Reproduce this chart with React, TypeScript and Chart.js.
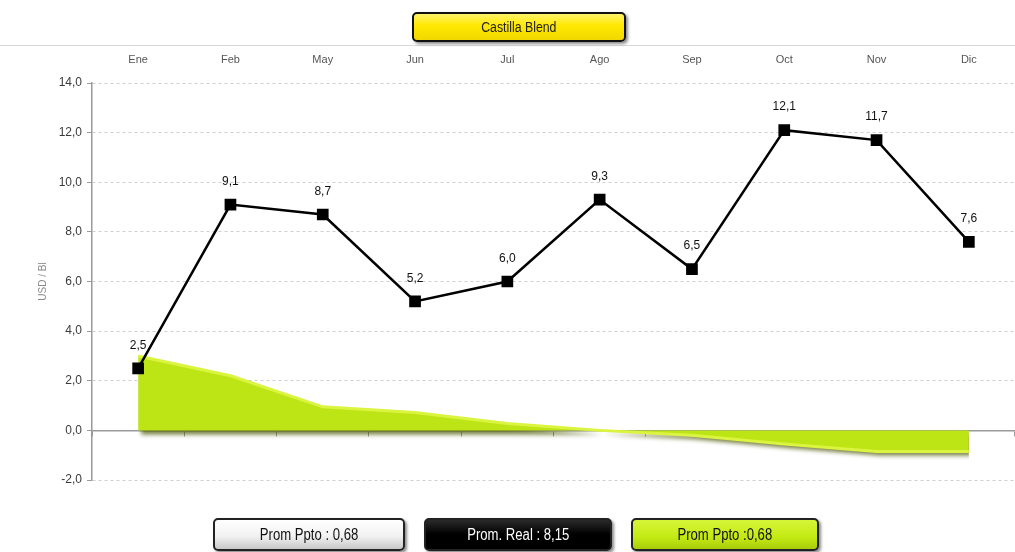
import React, { useEffect, useRef } from "react";
import { Chart, registerables } from "chart.js";

const title = "Castilla Blend";
const categories = ["Ene", "Feb", "May", "Jun", "Jul", "Ago", "Sep", "Oct", "Nov", "Dic"];
const realValues = [2.5, 9.1, 8.7, 5.2, 6.0, 9.3, 6.5, 12.1, 11.7, 7.6];
const pptoValues = [3.0, 2.2, 0.95, 0.72, 0.28, 0.0, -0.2, -0.55, -0.85, -0.85];
const yTitle = "USD / Bl";
const yMin = -2;
const yMax = 14;
const yStep = 2;
const legendTexts = ["Prom Ppto : 0,68", "Prom. Real : 8,15", "Prom Ppto :0,68"];

const FONT = "'Liberation Sans', 'DejaVu Sans', sans-serif";
const fmt = (v: number) => v.toFixed(1).replace(".", ",");

// Registered before the built-ins so that it runs before the Filler plugin draws the area.
const shadowPlugin = {
  id: "areaShadow",
  beforeDatasetDraw(chart: any, args: any) {
    if (args.index === 2) {
      const ctx = chart.ctx;
      ctx.save();
      ctx.shadowColor = "rgba(75,85,0,0.75)";
      ctx.shadowOffsetX = 3;
      ctx.shadowOffsetY = 4;
      ctx.shadowBlur = 4;
    }
  },
  afterDatasetDraw(chart: any, args: any) {
    if (args.index === 2) {
      chart.ctx.restore();
    }
  },
};

Chart.register(shadowPlugin);
Chart.register(...registerables);

const labelPlugin = {
  id: "valueLabels",
  afterDatasetsDraw(chart: any) {
    const meta = chart.getDatasetMeta(0);
    const ctx = chart.ctx;
    ctx.save();
    ctx.font = `12px ${FONT}`;
    ctx.fillStyle = "#111";
    ctx.textAlign = "center";
    ctx.textBaseline = "middle";
    meta.data.forEach((pt: any, i: number) => {
      ctx.fillText(fmt(realValues[i]), pt.x, pt.y - 23);
    });
    ctx.restore();
  },
};

const noPad = (s: any) => {
  s.paddingLeft = 0;
  s.paddingRight = 0;
};

const CANVAS_W = 1024;

export default function App() {
  const ref = useRef<HTMLCanvasElement | null>(null);

  useEffect(() => {
    if (!ref.current) return;
    const chart = new Chart(ref.current, {
      type: "line",
      data: {
        labels: categories,
        datasets: [
          {
            label: "Real",
            data: realValues,
            borderColor: "#000",
            borderWidth: 2.5,
            pointStyle: "rect",
            pointRadius: 6.5,
            pointHoverRadius: 6.5,
            pointBackgroundColor: "#000",
            pointBorderColor: "#000",
            tension: 0,
            fill: false,
          },
          {
            label: "Ppto edge",
            data: pptoValues,
            borderColor: "#dbf440",
            borderWidth: 3,
            pointRadius: 0,
            pointHoverRadius: 0,
            tension: 0,
            fill: false,
          },
          {
            label: "Ppto",
            data: pptoValues,
            borderWidth: 0,
            borderColor: "rgba(0,0,0,0)",
            backgroundColor: "#bde414",
            pointRadius: 0,
            pointHoverRadius: 0,
            tension: 0,
            fill: "origin",
          },
        ],
      },
      options: {
        responsive: false,
        animation: false,
        layout: { padding: { top: 45, bottom: 72, left: 0, right: 0 } },
        plugins: {
          legend: { display: false },
          tooltip: { enabled: false },
          title: { display: false },
        },
        scales: {
          x: {
            type: "category",
            position: "top",
            offset: true,
            grid: { display: false, drawTicks: false },
            border: { display: false },
            ticks: {
              padding: 16,
              color: "#555",
              font: { family: FONT, size: 11 },
              maxRotation: 0,
            },
            afterFit: (s: any) => {
              s.height = 38;
              noPad(s);
            },
          },
          x2: {
            type: "category",
            axis: "x",
            position: { y: 0 },
            offset: true,
            grid: {
              display: true,
              offset: true,
              drawOnChartArea: false,
              drawTicks: true,
              tickLength: 5,
              color: "#9a9a9a",
            },
            border: { display: true, color: "#9a9a9a", width: 1.5 },
            ticks: { display: false },
            afterFit: (s: any) => {
              s.height = 0;
              noPad(s);
            },
          },
          y: {
            min: yMin,
            max: yMax,
            ticks: {
              stepSize: yStep,
              padding: 5,
              color: "#3a3a3a",
              font: { family: FONT, size: 12 },
              callback: (v: any) => fmt(Number(v)),
            },
            grid: {
              color: (c: any) => (c.tick && c.tick.value === 0 ? "rgba(0,0,0,0)" : "#cfcfcf"),
              tickColor: "#9a9a9a",
              tickLength: 5,
            },
            border: { display: true, color: "#9a9a9a", width: 1.5, dash: [3, 3] },
            title: {
              display: true,
              text: yTitle,
              color: "#8a8a8a",
              font: { family: FONT, size: 10 },
              padding: { top: 37, bottom: 0 },
            },
            afterFit: (s: any) => {
              s.width = 92;
            },
          },
        },
      },
      plugins: [labelPlugin],
    });
    return () => chart.destroy();
  }, []);

  const boxBase: React.CSSProperties = {
    position: "absolute",
    top: 518,
    height: 33,
    boxSizing: "border-box",
    border: "2px solid #222",
    borderRadius: 5,
    display: "flex",
    alignItems: "center",
    justifyContent: "center",
    fontFamily: FONT,
    fontSize: 16,
    boxShadow: "2px 2px 3px rgba(0,0,0,0.45)",
    whiteSpace: "nowrap",
  };

  const legendStyles: React.CSSProperties[] = [
    { left: 213, width: 192, background: "linear-gradient(#ffffff, #f2f2f2 55%, #c8c8c8)", color: "#111" },
    { left: 424, width: 188, background: "linear-gradient(#2a2a2a, #000 50%, #000)", color: "#fff" },
    { left: 631, width: 188, background: "linear-gradient(#d6f53a, #c3ea12 60%, #a9cc0c)", color: "#111" },
  ];

  return (
    <div style={{ position: "absolute", left: 0, top: 0, width: 1015, height: 552, background: "#fff", overflow: "hidden" }}>
      <canvas
        ref={ref}
        width={CANVAS_W}
        height={552}
        style={{ position: "absolute", left: 0, top: 0, width: CANVAS_W, height: 552 }}
      />
      <div style={{ position: "absolute", left: 0, top: 45, width: 1015, height: 0, borderTop: "1px solid #d8d8d8" }} />
      <div
        style={{
          position: "absolute",
          left: 412,
          top: 12,
          width: 214,
          height: 30,
          boxSizing: "border-box",
          border: "2px solid #111",
          borderRadius: 5,
          background: "linear-gradient(#fff36a, #ffe800 45%, #f0d800)",
          boxShadow: "2px 2px 3px rgba(0,0,0,0.45)",
          display: "flex",
          alignItems: "center",
          justifyContent: "center",
          fontFamily: FONT,
          fontSize: 14,
          color: "#222",
        }}
      >
        <span style={{ display: "inline-block", transform: "scaleX(0.88)" }}>{title}</span>
      </div>
      {legendTexts.map((t, i) => (
        <div key={i} style={{ ...boxBase, ...legendStyles[i] }}>
          <span style={{ display: "inline-block", transform: "scaleX(0.82)" }}>{t}</span>
        </div>
      ))}
    </div>
  );
}
